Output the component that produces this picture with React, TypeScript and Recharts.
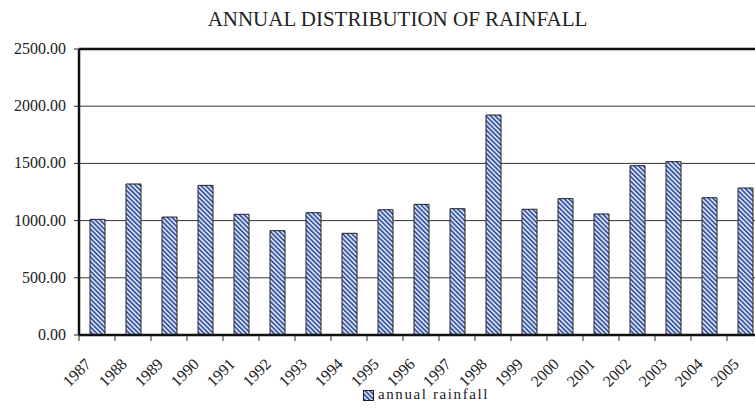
import React from "react";
import {
  BarChart,
  Bar,
  XAxis,
  YAxis,
  CartesianGrid,
  Legend,
  ReferenceLine,
} from "recharts";

const years = [
  "1987", "1988", "1989", "1990", "1991", "1992", "1993", "1994", "1995", "1996",
  "1997", "1998", "1999", "2000", "2001", "2002", "2003", "2004", "2005",
];
const rainfall = [
  1011, 1320, 1031, 1308, 1055, 912, 1069, 889, 1095, 1142,
  1104, 1923, 1099, 1192, 1058, 1480, 1515, 1200, 1285,
];
const yTicks = [0, 500, 1000, 1500, 2000, 2500];
const boundaryTicks = years.map((_, i) => i).concat([years.length]);

const data = years.map((year, i) => ({ year, idx: i + 0.5, rainfall: rainfall[i] }));

const FONT = "Liberation Serif";
const BLUE = "#3a5aa8";

function YearTick({ x, y, payload }: any) {
  return (
    <text
      x={x - 5}
      y={y + 30}
      textAnchor="end"
      transform={`rotate(-45, ${x - 5}, ${y + 30})`}
      style={{ fontFamily: FONT, fontSize: 16 }}
      fill="#222"
    >
      {payload.value}
    </text>
  );
}

function YTick({ x, y, payload }: any) {
  return (
    <text x={x} y={y} dy={5} textAnchor="end" style={{ fontFamily: FONT, fontSize: 16 }} fill="#222">
      {Number(payload.value).toFixed(2)}
    </text>
  );
}

// edge axis sits 1px below the category axis
function EdgeTick({ x, y }: any) {
  return <line x1={x} x2={x} y1={y - 1} y2={y + 5} stroke="#222" strokeWidth={1} />;
}

function LegendBox() {
  return (
    <div style={{ display: "flex", alignItems: "flex-start", fontFamily: FONT, fontSize: 15, lineHeight: "15px", color: "#222" }}>
      <svg width={11} height={11} style={{ marginTop: 3, marginRight: 4 }}>
        <defs>
          <pattern id="legendStripes" width="3.3" height="3.3" patternUnits="userSpaceOnUse" patternTransform="rotate(-45)">
            <rect width="3.3" height="3.3" fill="#fff" />
            <rect width="2" height="3.3" fill={BLUE} />
          </pattern>
        </defs>
        <rect x={0.5} y={0.5} width={10} height={10} fill="url(#legendStripes)" stroke="#222" strokeWidth={1} />
      </svg>
      <span style={{ letterSpacing: 1.6 }}>annual rainfall</span>
    </div>
  );
}

export default function App() {
  return (
    <div style={{ position: "absolute", left: 0, top: 0, width: 755, height: 408, overflow: "hidden", background: "#fff" }}>
      <div
        style={{
          position: "absolute",
          left: 0,
          top: 9.4,
          width: 795,
          textAlign: "center",
          fontFamily: FONT,
          fontSize: 21,
          lineHeight: "21px",
          color: "#222",
          whiteSpace: "nowrap",
        }}
      >
        ANNUAL DISTRIBUTION OF RAINFALL
      </div>
      <BarChart
        width={780}
        height={408}
        data={data}
        margin={{ top: 49, right: 17, left: 0, bottom: 53 }}
        barCategoryGap={0}
      >
        <defs>
          <pattern id="stripes" width="3.3" height="3.3" patternUnits="userSpaceOnUse" patternTransform="rotate(-45)">
            <rect width="3.3" height="3.3" fill="#fff" />
            <rect width="2" height="3.3" fill={BLUE} />
          </pattern>
        </defs>
        <CartesianGrid vertical={false} stroke="#333" strokeWidth={1} yAxisId="y" xAxisId="cat" />
        <XAxis
          xAxisId="cat"
          dataKey="year"
          height={1}
          interval={0}
          tickSize={0}
          tickMargin={0}
          tickLine={false}
          axisLine={{ stroke: "#111", strokeWidth: 2.5 }}
          tick={<YearTick />}
        />
        <XAxis
          xAxisId="edge"
          dataKey="idx"
          type="number"
          domain={[0, years.length]}
          ticks={boundaryTicks}
          interval={0}
          height={1}
          tickSize={0}
          tickMargin={0}
          tickLine={false}
          tick={<EdgeTick />}
          axisLine={false}
        />
        <YAxis
          yAxisId="y"
          width={79}
          domain={[0, 2500]}
          ticks={yTicks}
          interval={0}
          tickSize={5}
          tickMargin={8}
          tick={<YTick />}
          tickLine={{ stroke: "#222", strokeWidth: 1 }}
          axisLine={{ stroke: "#111", strokeWidth: 2.5 }}
        />
        <ReferenceLine y={2500} yAxisId="y" xAxisId="cat" stroke="#111" strokeWidth={2.5} />
        <Legend
          verticalAlign="bottom"
          content={() => <LegendBox />}
          wrapperStyle={{ position: "absolute", left: 363, top: 387, width: 200, height: 18 }}
        />
        <Bar
          dataKey="rainfall"
          name="annual rainfall"
          xAxisId="cat"
          yAxisId="y"
          barSize={15}
          fill="url(#stripes)"
          stroke="#222"
          strokeWidth={1}
          isAnimationActive={false}
        />
      </BarChart>
    </div>
  );
}
